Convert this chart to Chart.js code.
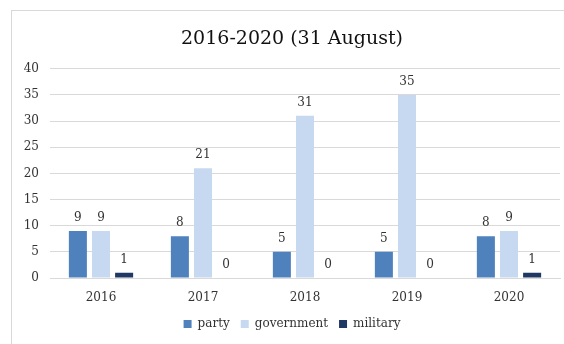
<!DOCTYPE html>
<html>
<head>
<meta charset="utf-8">
<script src="https://cdn.jsdelivr.net/npm/chart.js@4"></script>
<style>
  body { margin: 0; background: #fff; }
  #wrap { width: 564px; height: 344px; }
</style>
</head>
<body>
<div id="wrap"><canvas id="myChart"></canvas></div>
<script>
const years = ["2016", "2017", "2018", "2019", "2020"];
const party = [9, 8, 5, 5, 8];
const government = [9, 21, 31, 35, 9];
const military = [1, 0, 0, 0, 1];
const yTicks = [0, 5, 10, 15, 20, 25, 30, 35, 40];

const fontFam = "'DejaVu Serif', serif";

// light frame round the chart, like the office chart box
const framePlugin = {
    id: "frame",
    beforeDraw(chart) {
        const ctx = chart.ctx;
        ctx.save();
        ctx.fillStyle = "#fff";
        ctx.fillRect(0, 0, chart.width, chart.height);
        ctx.strokeStyle = "#d9d9d9";
        ctx.lineWidth = 1;
        ctx.strokeRect(11.5, 10.5, 600, 400);
        ctx.restore();
    }
};

// value labels on top of each bar
const labelPlugin = {
    id: "barLabels",
    afterDatasetsDraw(chart) {
        const ctx = chart.ctx;
        ctx.save();
        ctx.font = "12px " + fontFam;
        ctx.fillStyle = "#333";
        ctx.textAlign = "center";
        ctx.textBaseline = "bottom";
        chart.data.datasets.forEach((ds, i) => {
            chart.getDatasetMeta(i).data.forEach((bar, j) => {
                const p = bar.getProps(["x", "y"], true);
                ctx.fillText(ds.data[j], p.x, p.y - 7);
            });
        });
        ctx.restore();
    }
};

const ctx = document.getElementById("myChart").getContext("2d");
const myChart = new Chart(ctx, {
    type: "bar",
    data: {
        labels: years,
        datasets: [
            { label: "party", data: party, backgroundColor: "#4f81bd" },
            { label: "government", data: government, backgroundColor: "#c6d9f1" },
            { label: "military", data: military, backgroundColor: "#1f3864" }
        ]
    },
    options: {
        responsive: true,
        maintainAspectRatio: false,
        animation: false,
        datasets: {
            bar: { categoryPercentage: 0.68, barPercentage: 0.78 }
        },
        layout: { padding: { left: 24, right: 4, top: 28, bottom: 4 } },
        plugins: {
            title: {
                display: true,
                text: "2016-2020 (31 August)",
                color: "#111",
                font: { family: fontFam, size: 19, weight: "normal" },
                padding: { top: 0, bottom: 18 }
            },
            legend: {
                position: "bottom",
                labels: {
                    boxWidth: 8,
                    boxHeight: 8,
                    color: "#333",
                    font: { family: fontFam, size: 12 },
                    padding: 11
                }
            },
            tooltip: { enabled: false }
        },
        scales: {
            x: {
                grid: { display: false },
                border: { display: true, color: "#d9d9d9" },
                ticks: { color: "#333", font: { family: fontFam, size: 12 }, padding: 5 },
                afterFit(axis) { axis.height = 29; }
            },
            y: {
                min: 0,
                max: 40,
                afterBuildTicks(axis) {
                    axis.ticks = yTicks.map(v => ({ value: v }));
                },
                grid: { color: "#d9d9d9", drawTicks: false },
                border: { display: false },
                ticks: { color: "#333", font: { family: fontFam, size: 12 }, padding: 11 },
                afterFit(axis) { axis.width = 26; }
            }
        }
    },
    plugins: [framePlugin, labelPlugin]
});
</script>
</body>
</html>
